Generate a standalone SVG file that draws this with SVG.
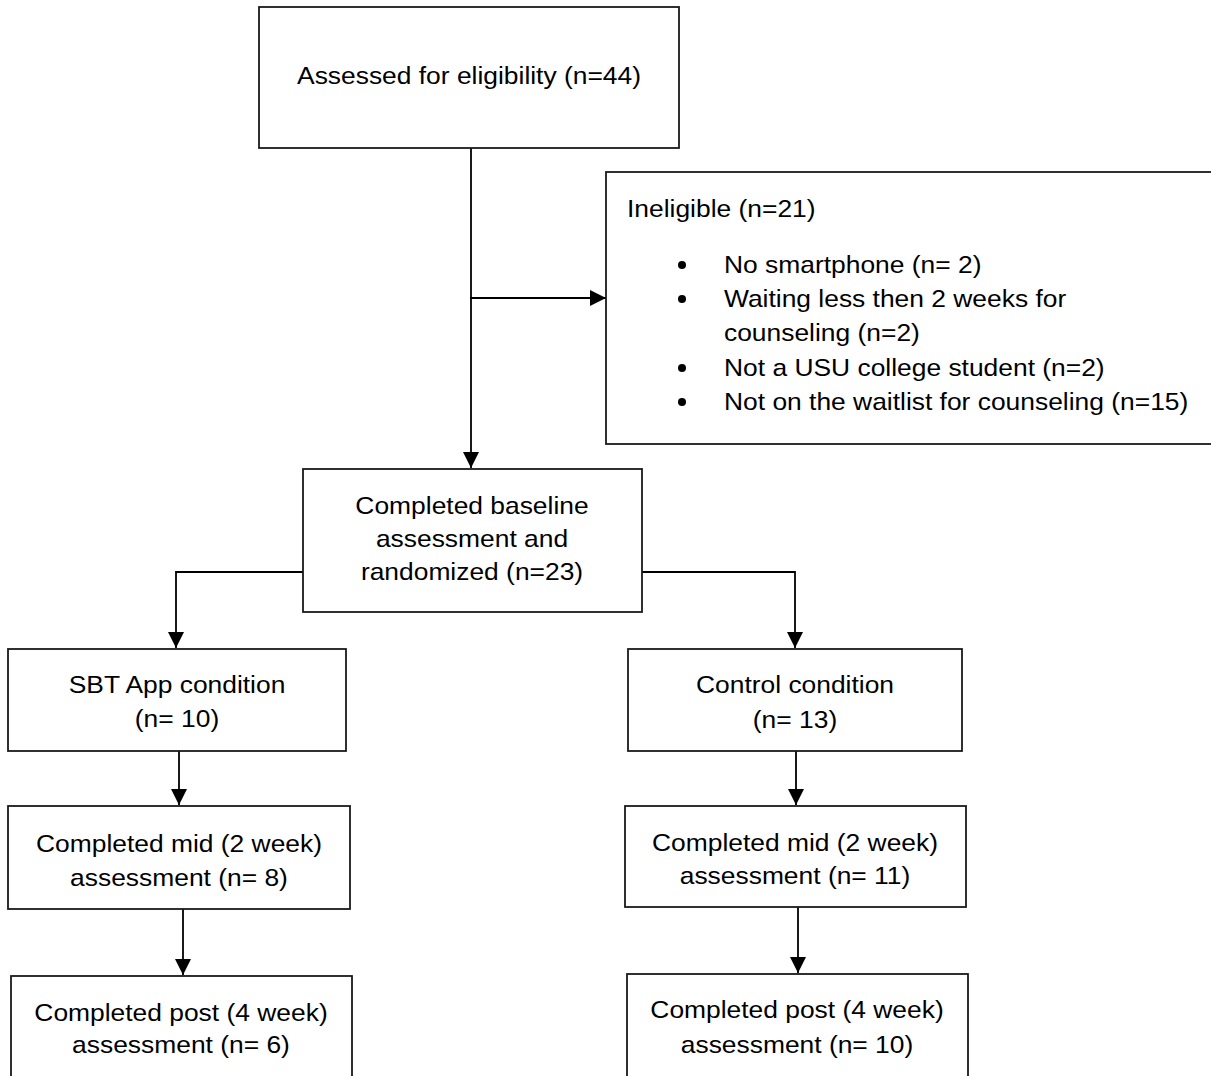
<svg xmlns="http://www.w3.org/2000/svg" width="1211" height="1076" viewBox="0 0 1211 1076">
  <style>
    .box { fill: #ffffff; stroke: #1a1a1a; stroke-width: 1.8; }
    .t { font-family: "Liberation Sans", Arial, sans-serif; font-size: 24px; fill: #000000; }
    .c { text-anchor: middle; }
    .conn { fill: none; stroke: #000000; stroke-width: 1.8; }
    .dot { fill: #000000; }
  </style>
  <defs>
    <marker id="arrow" markerUnits="userSpaceOnUse" markerWidth="18" markerHeight="18" viewBox="0 0 18 18" refX="16" refY="9" orient="auto">
      <path d="M0,1 L16,9 L0,17 Z" fill="#000000"/>
    </marker>
  </defs>
  <rect width="1211" height="1076" fill="#ffffff"/>

  <g id="connectors">
    <line class="conn" x1="471" y1="147" x2="481" y2="147"/>
    <line class="conn" x1="471" y1="148" x2="471" y2="468" marker-end="url(#arrow)"/>
    <line class="conn" x1="470" y1="298" x2="606" y2="298" marker-end="url(#arrow)"/>
    <polyline class="conn" points="303,572 176,572 176,648" marker-end="url(#arrow)"/>
    <polyline class="conn" points="642,572 795,572 795,648" marker-end="url(#arrow)"/>
    <line class="conn" x1="179" y1="751" x2="179" y2="805" marker-end="url(#arrow)"/>
    <line class="conn" x1="183" y1="909" x2="183" y2="975" marker-end="url(#arrow)"/>
    <line class="conn" x1="796" y1="751" x2="796" y2="805" marker-end="url(#arrow)"/>
    <line class="conn" x1="798" y1="907" x2="798" y2="973" marker-end="url(#arrow)"/>
  </g>

  <g id="node-assessed">
    <rect class="box" x="259" y="7" width="420" height="141"/>
    <text class="t c" transform="translate(469 84) scale(1.1 1)">Assessed for eligibility (n=44)</text>
  </g>

  <g id="node-ineligible">
    <rect class="box" x="606" y="172" width="610" height="272"/>
    <text class="t" transform="translate(627 217) scale(1.1 1)">Ineligible (n=21)</text>
    <circle class="dot" cx="682" cy="265" r="4"/>
    <text class="t" transform="translate(724 273) scale(1.1 1)">No smartphone (n= 2)</text>
    <circle class="dot" cx="682" cy="299" r="4"/>
    <text class="t" transform="translate(724 307) scale(1.1 1)">Waiting less then 2 weeks for</text>
    <text class="t" transform="translate(724 341) scale(1.1 1)">counseling (n=2)</text>
    <circle class="dot" cx="682" cy="368" r="4"/>
    <text class="t" transform="translate(724 376) scale(1.1 1)">Not a USU college student (n=2)</text>
    <circle class="dot" cx="682" cy="402" r="4"/>
    <text class="t" transform="translate(724 410) scale(1.1 1)">Not on the waitlist for counseling (n=15)</text>
  </g>

  <g id="node-baseline">
    <rect class="box" x="303" y="469" width="339" height="143"/>
    <text class="t c" transform="translate(472 514) scale(1.1 1)">Completed baseline</text>
    <text class="t c" transform="translate(472 547) scale(1.1 1)">assessment and</text>
    <text class="t c" transform="translate(472 580) scale(1.1 1)">randomized (n=23)</text>
  </g>

  <g id="node-sbt">
    <rect class="box" x="8" y="649" width="338" height="102"/>
    <text class="t c" transform="translate(177 693) scale(1.1 1)">SBT App condition</text>
    <text class="t c" transform="translate(177 727) scale(1.1 1)">(n= 10)</text>
  </g>

  <g id="node-sbt-mid">
    <rect class="box" x="8" y="806" width="342" height="103"/>
    <text class="t c" transform="translate(179 852) scale(1.1 1)">Completed mid (2 week)</text>
    <text class="t c" transform="translate(179 886) scale(1.1 1)">assessment (n= 8)</text>
  </g>

  <g id="node-sbt-post">
    <rect class="box" x="11" y="976" width="341" height="110"/>
    <text class="t c" transform="translate(181 1021) scale(1.1 1)">Completed post (4 week)</text>
    <text class="t c" transform="translate(181 1053) scale(1.1 1)">assessment (n= 6)</text>
  </g>

  <g id="node-control">
    <rect class="box" x="628" y="649" width="334" height="102"/>
    <text class="t c" transform="translate(795 693) scale(1.1 1)">Control condition</text>
    <text class="t c" transform="translate(795 728) scale(1.1 1)">(n= 13)</text>
  </g>

  <g id="node-control-mid">
    <rect class="box" x="625" y="806" width="341" height="101"/>
    <text class="t c" transform="translate(795 851) scale(1.1 1)">Completed mid (2 week)</text>
    <text class="t c" transform="translate(795 884) scale(1.1 1)">assessment (n= 11)</text>
  </g>

  <g id="node-control-post">
    <rect class="box" x="627" y="974" width="341" height="112"/>
    <text class="t c" transform="translate(797 1018) scale(1.1 1)">Completed post (4 week)</text>
    <text class="t c" transform="translate(797 1053) scale(1.1 1)">assessment (n= 10)</text>
  </g>
</svg>
